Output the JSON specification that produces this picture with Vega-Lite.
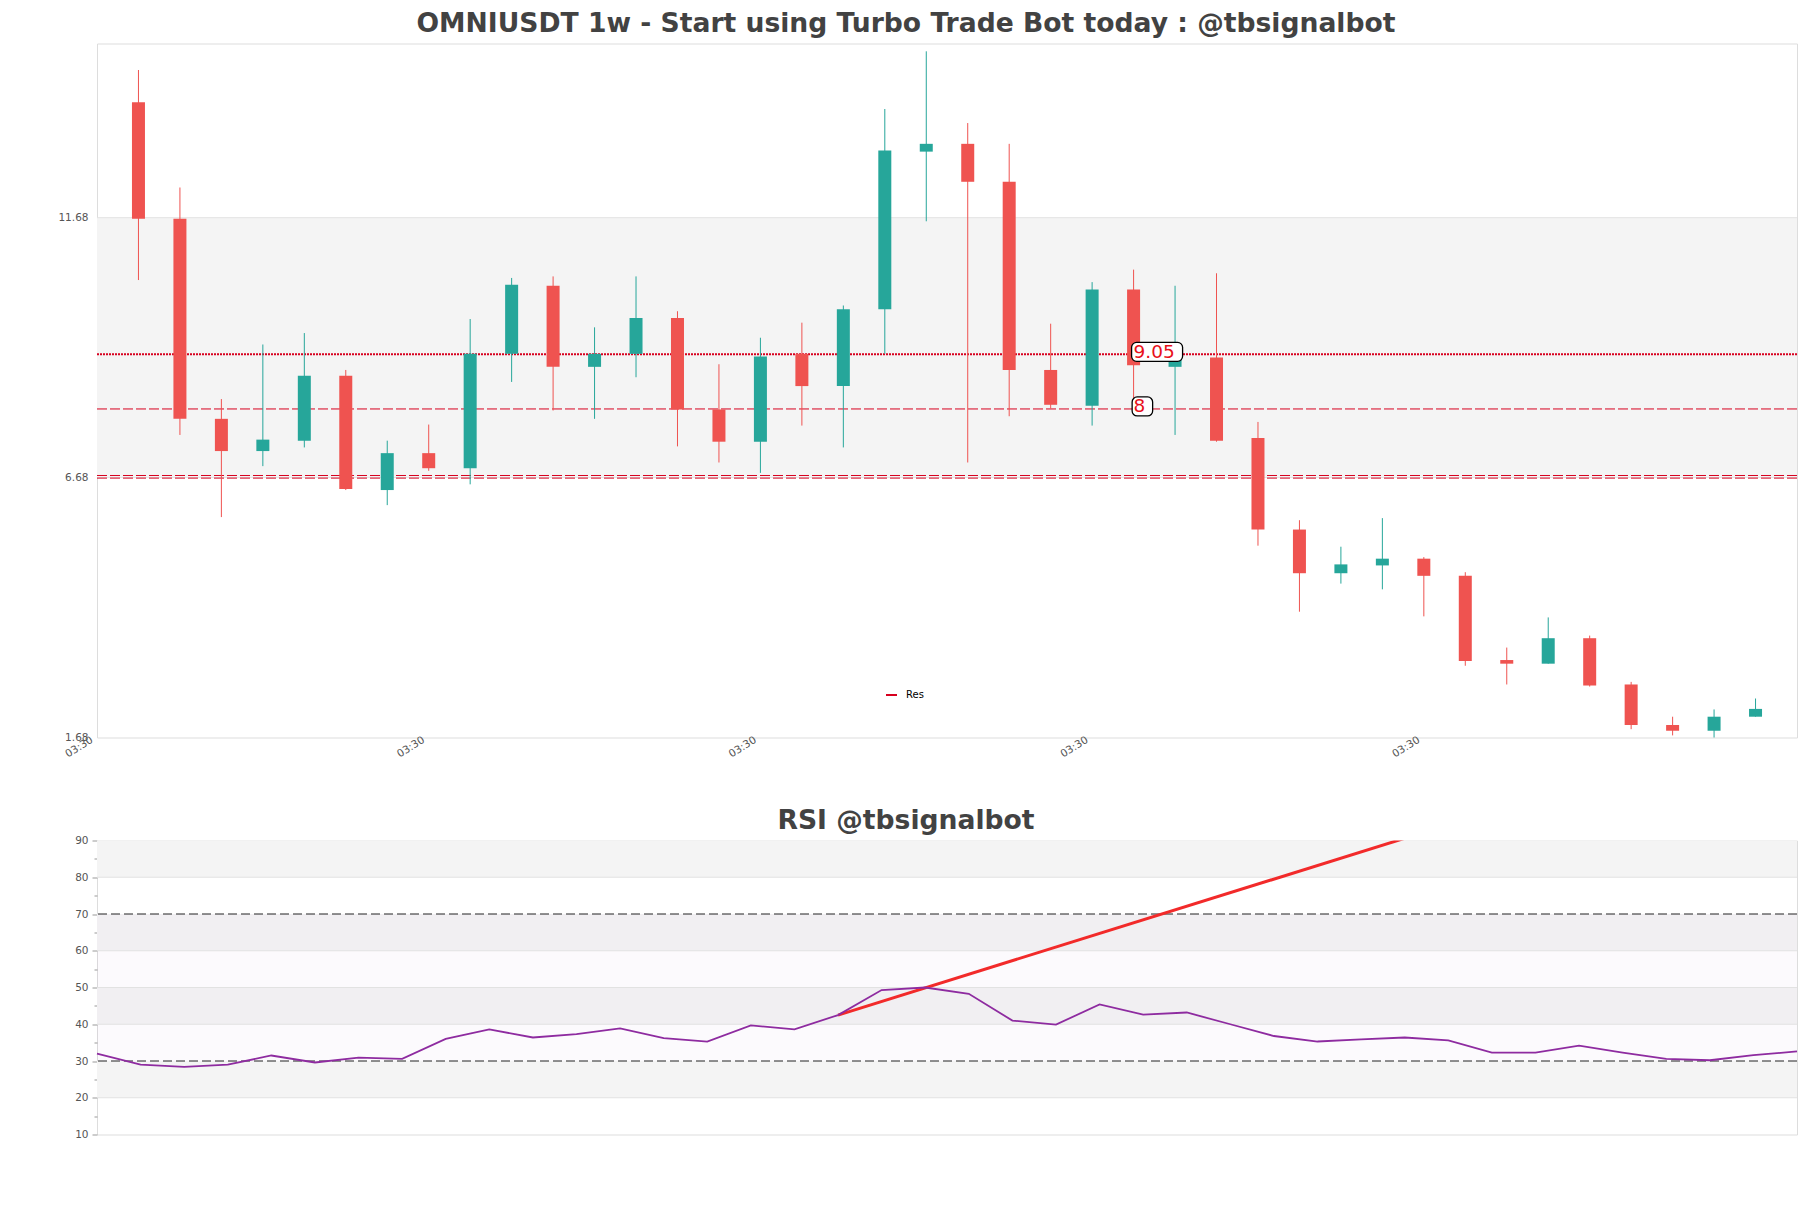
{
  "$schema": "https://vega.github.io/schema/vega-lite/v6.json",
  "background": "white",
  "padding": {"left": 57, "top": 9.5, "right": 14, "bottom": 10},
  "spacing": 46,
  "config": {
    "font": "DejaVu Sans",
    "view": {"stroke": "#dddddd"},
    "title": {"font": "DejaVu Sans", "fontSize": 26.6, "fontWeight": "bold", "color": "#424242", "anchor": "middle", "dx": -41},
    "axis": {"labelFont": "DejaVu Sans", "labelFontSize": 10.5, "labelColor": "#555555", "title": null, "grid": false, "domain": false}
  },
  "datasets": {
    "candles": [
      {"i": 1, "open": 13.9, "close": 11.66, "high": 14.52, "low": 10.48},
      {"i": 2, "open": 11.66, "close": 7.81, "high": 12.26, "low": 7.5},
      {"i": 3, "open": 7.81, "close": 7.19, "high": 8.19, "low": 5.92},
      {"i": 4, "open": 7.19, "close": 7.41, "high": 9.24, "low": 6.9},
      {"i": 5, "open": 7.39, "close": 8.64, "high": 9.46, "low": 7.26},
      {"i": 6, "open": 8.64, "close": 6.46, "high": 8.75, "low": 6.44},
      {"i": 7, "open": 6.44, "close": 7.15, "high": 7.39, "low": 6.15},
      {"i": 8, "open": 7.15, "close": 6.86, "high": 7.7, "low": 6.81},
      {"i": 9, "open": 6.86, "close": 9.06, "high": 9.73, "low": 6.55},
      {"i": 10, "open": 9.06, "close": 10.39, "high": 10.52, "low": 8.52},
      {"i": 11, "open": 10.37, "close": 8.81, "high": 10.55, "low": 7.97},
      {"i": 12, "open": 8.81, "close": 9.06, "high": 9.57, "low": 7.81},
      {"i": 13, "open": 9.06, "close": 9.75, "high": 10.55, "low": 8.61},
      {"i": 14, "open": 9.75, "close": 7.99, "high": 9.88, "low": 7.28},
      {"i": 15, "open": 7.99, "close": 7.37, "high": 8.86, "low": 6.97},
      {"i": 16, "open": 7.37, "close": 9.01, "high": 9.37, "low": 6.77},
      {"i": 17, "open": 9.06, "close": 8.44, "high": 9.66, "low": 7.68},
      {"i": 18, "open": 8.44, "close": 9.92, "high": 9.99, "low": 7.26},
      {"i": 19, "open": 9.92, "close": 12.97, "high": 13.77, "low": 9.06},
      {"i": 20, "open": 12.95, "close": 13.1, "high": 14.88, "low": 11.61},
      {"i": 21, "open": 13.1, "close": 12.37, "high": 13.5, "low": 6.97},
      {"i": 22, "open": 12.37, "close": 8.75, "high": 13.1, "low": 7.86},
      {"i": 23, "open": 8.75, "close": 8.08, "high": 9.64, "low": 8.01},
      {"i": 24, "open": 8.06, "close": 10.3, "high": 10.44, "low": 7.68},
      {"i": 25, "open": 10.3, "close": 8.84, "high": 10.68, "low": 8.04},
      {"i": 26, "open": 8.81, "close": 9.06, "high": 10.37, "low": 7.5},
      {"i": 27, "open": 8.99, "close": 7.39, "high": 10.61, "low": 7.37},
      {"i": 28, "open": 7.44, "close": 5.68, "high": 7.75, "low": 5.37},
      {"i": 29, "open": 5.68, "close": 4.84, "high": 5.86, "low": 4.1},
      {"i": 30, "open": 4.84, "close": 5.01, "high": 5.35, "low": 4.64},
      {"i": 31, "open": 4.99, "close": 5.12, "high": 5.9, "low": 4.53},
      {"i": 32, "open": 5.12, "close": 4.79, "high": 5.15, "low": 4.01},
      {"i": 33, "open": 4.79, "close": 3.15, "high": 4.86, "low": 3.06},
      {"i": 34, "open": 3.17, "close": 3.1, "high": 3.41, "low": 2.7},
      {"i": 35, "open": 3.1, "close": 3.59, "high": 3.99, "low": 3.1},
      {"i": 36, "open": 3.59, "close": 2.68, "high": 3.64, "low": 2.66},
      {"i": 37, "open": 2.7, "close": 1.92, "high": 2.75, "low": 1.84},
      {"i": 38, "open": 1.92, "close": 1.81, "high": 2.08, "low": 1.72},
      {"i": 39, "open": 1.81, "close": 2.08, "high": 2.22, "low": 1.68},
      {"i": 40, "open": 2.08, "close": 2.23, "high": 2.43, "low": 2.08}
    ],
    "rsi": [
      {"j": 0, "v": 32}, {"j": 1, "v": 29}, {"j": 2, "v": 28.4}, {"j": 3, "v": 29},
      {"j": 4, "v": 31.5}, {"j": 5, "v": 29.6}, {"j": 6, "v": 30.9}, {"j": 7, "v": 30.6},
      {"j": 8, "v": 36}, {"j": 9, "v": 38.6}, {"j": 10, "v": 36.4}, {"j": 11, "v": 37.3},
      {"j": 12, "v": 38.9}, {"j": 13, "v": 36.2}, {"j": 14, "v": 35.3}, {"j": 15, "v": 39.7},
      {"j": 16, "v": 38.6}, {"j": 17, "v": 42.5}, {"j": 18, "v": 49.3}, {"j": 19, "v": 50},
      {"j": 20, "v": 48.3}, {"j": 21, "v": 41}, {"j": 22, "v": 39.9}, {"j": 23, "v": 45.4},
      {"j": 24, "v": 42.6}, {"j": 25, "v": 43.2}, {"j": 26, "v": 40}, {"j": 27, "v": 36.8},
      {"j": 28, "v": 35.3}, {"j": 29, "v": 35.9}, {"j": 30, "v": 36.4}, {"j": 31, "v": 35.6},
      {"j": 32, "v": 32.3}, {"j": 33, "v": 32.3}, {"j": 34, "v": 34.2}, {"j": 35, "v": 32.3},
      {"j": 36, "v": 30.6}, {"j": 37, "v": 30.2}, {"j": 38, "v": 31.6}, {"j": 39, "v": 32.6}
    ]
  },
  "vconcat": [
    {
      "title": {"text": "OMNIUSDT 1w - Start using Turbo Trade Bot today : @tbsignalbot", "offset": 6},
      "width": 1700,
      "height": 694,
      "layer": [
        {
          "data": {"values": [{"from": 6.68, "to": 11.68}]},
          "mark": {"type": "rect", "fill": "#f4f4f4"},
          "encoding": {
            "y": {"field": "from", "type": "quantitative"},
            "y2": {"field": "to"}
          }
        },
        {
          "data": {"values": [{"p": 6.68}, {"p": 11.68}]},
          "mark": {"type": "rule", "color": "#e4e4e4", "strokeWidth": 1},
          "encoding": {"y": {"field": "p", "type": "quantitative"}}
        },
        {
          "data": {"values": [{"price": 9.05, "series": "Res"}]},
          "mark": {"type": "rule", "strokeWidth": 2, "strokeDash": [2, 1]},
          "encoding": {
            "y": {"field": "price", "type": "quantitative"},
            "stroke": {
              "field": "series",
              "type": "nominal",
              "scale": {"range": ["#d7001f"]},
              "legend": {
                "orient": "none",
                "legendX": 788,
                "legendY": 645,
                "title": null,
                "symbolType": "stroke",
                "symbolSize": 121,
                "symbolStrokeWidth": 2,
                "symbolDash": [1, 0],
                "labelOffset": 8,
                "labelFontSize": 10,
                "labelColor": "#000000",
                "labelFont": "DejaVu Sans"
              }
            }
          }
        },
        {
          "data": {"values": [{"price": 8, "series": "Res"}, {"price": 6.72, "series": "Res"}, {"price": 6.67, "series": "Res"}]},
          "mark": {"type": "rule", "strokeWidth": 1, "strokeDash": [10, 3]},
          "encoding": {
            "y": {"field": "price", "type": "quantitative"},
            "stroke": {"field": "series", "type": "nominal"}
          }
        },
        {
          "data": {"name": "candles"},
          "mark": {"type": "rule", "strokeWidth": 1},
          "encoding": {
            "x": {
              "field": "i",
              "type": "quantitative",
              "scale": {"domain": [0, 41], "nice": false, "zero": false, "padding": 0},
              "axis": {"values": [0, 8, 16, 24, 32], "labelExpr": "'03:30'", "ticks": false, "labelAngle": -32, "labelAlign": "right", "labelBaseline": "top", "labelFontSize": 10.5, "labelPadding": -3, "labelOffset": -8, "labelOverlap": false, "labelFlush": false}
            },
            "y": {
              "field": "low",
              "type": "quantitative",
              "scale": {"domain": [1.68, 15.03], "nice": false, "zero": false},
              "axis": {"values": [1.68, 6.68, 11.68], "format": ".2f", "ticks": false, "labelPadding": 9}
            },
            "y2": {"field": "high"},
            "color": {"condition": {"test": "datum.close < datum.open", "value": "#ef5350"}, "value": "#26a69a"}
          }
        },
        {
          "data": {"name": "candles"},
          "mark": {"type": "bar", "size": 13},
          "encoding": {
            "x": {"field": "i", "type": "quantitative"},
            "y": {"field": "open", "type": "quantitative"},
            "y2": {"field": "close"},
            "color": {"condition": {"test": "datum.close < datum.open", "value": "#ef5350"}, "value": "#26a69a"}
          }
        },
        {
          "data": {"values": [{"i": 25, "price": 9.05}]},
          "mark": {"type": "rect", "width": 51, "height": 19, "cornerRadius": 5, "fill": "white", "stroke": "black", "strokeWidth": 1.3, "xOffset": 23.5, "yOffset": -2.5},
          "encoding": {
            "x": {"field": "i", "type": "quantitative"},
            "y": {"field": "price", "type": "quantitative"}
          }
        },
        {
          "data": {"values": [{"i": 25, "price": 8}]},
          "mark": {"type": "rect", "width": 20.5, "height": 19, "cornerRadius": 5, "fill": "white", "stroke": "black", "strokeWidth": 1.3, "xOffset": 8.8, "yOffset": -2.5},
          "encoding": {
            "x": {"field": "i", "type": "quantitative"},
            "y": {"field": "price", "type": "quantitative"}
          }
        },
        {
          "data": {"values": [{"i": 25, "price": 9.05, "label": "9.05"}, {"i": 25, "price": 8, "label": "8"}]},
          "mark": {"type": "text", "align": "left", "baseline": "middle", "dx": 0, "dy": -2.5, "fontSize": 18.5, "color": "#e8101a"},
          "encoding": {
            "x": {"field": "i", "type": "quantitative"},
            "y": {"field": "price", "type": "quantitative"},
            "text": {"field": "label"}
          }
        }
      ]
    },
    {
      "title": {"text": "RSI @tbsignalbot", "offset": 1},
      "width": 1700,
      "height": 294,
      "layer": [
        {
          "data": {"values": [{"from": 80, "to": 90}, {"from": 60, "to": 70}, {"from": 40, "to": 50}, {"from": 20, "to": 30}]},
          "mark": {"type": "rect", "fill": "#f4f4f4"},
          "encoding": {
            "y": {
              "field": "from",
              "type": "quantitative",
              "scale": {"domain": [10, 90], "nice": false, "zero": false},
              "axis": {
                "values": [10, 15, 20, 25, 30, 35, 40, 45, 50, 55, 60, 65, 70, 75, 80, 85, 90],
                "tickCount": 17,
                "labelExpr": "datum.value % 10 === 0 ? datum.label : ''",
                "labelOverlap": false,
                "ticks": true,
                "tickColor": "#999999",
                "tickSize": {"condition": {"test": "datum.value % 10 === 0", "value": 5}, "value": 3},
                "labelPadding": 4
              }
            },
            "y2": {"field": "to"}
          }
        },
        {
          "data": {"values": [{"from": 30, "to": 70}]},
          "mark": {"type": "rect", "fill": "#7b3fa0", "opacity": 0.025},
          "encoding": {
            "y": {"field": "from", "type": "quantitative"},
            "y2": {"field": "to"}
          }
        },
        {
          "data": {"values": [{"p": 20}, {"p": 40}, {"p": 50}, {"p": 60}, {"p": 80}]},
          "mark": {"type": "rule", "color": "#e2e2e2", "strokeWidth": 1},
          "encoding": {"y": {"field": "p", "type": "quantitative"}}
        },
        {
          "data": {"values": [{"p": 30}, {"p": 70}]},
          "mark": {"type": "rule", "color": "#222222", "strokeWidth": 1, "strokeDash": [9, 4]},
          "encoding": {"y": {"field": "p", "type": "quantitative"}}
        },
        {
          "data": {"values": [{"j": 17, "v": 42.5}, {"j": 30, "v": 90.6}]},
          "mark": {"type": "line", "color": "#f22a2a", "strokeWidth": 3, "clip": true},
          "encoding": {
            "x": {"field": "j", "type": "quantitative"},
            "y": {"field": "v", "type": "quantitative"}
          }
        },
        {
          "data": {"name": "rsi"},
          "mark": {"type": "line", "color": "#8e2ba0", "strokeWidth": 1.8},
          "encoding": {
            "x": {
              "field": "j",
              "type": "quantitative",
              "scale": {"domain": [0, 39], "nice": false, "zero": false},
              "axis": null
            },
            "y": {"field": "v", "type": "quantitative"}
          }
        }
      ]
    }
  ]
}
